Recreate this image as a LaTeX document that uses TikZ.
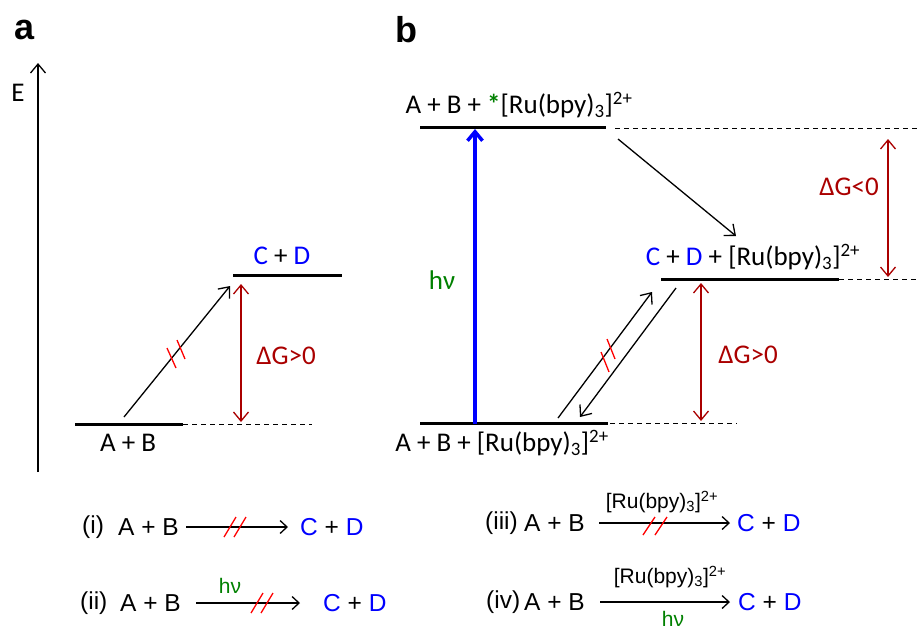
\documentclass[tikz,border=0pt]{standalone}
\usepackage{fontspec}
\setmainfont{Carlito}
\newfontfamily\arialfont{Liberation Sans}
\usepackage{xcolor}
\usepackage{tikz}
\usetikzlibrary{arrows.meta, calc}
\definecolor{cdblue}{RGB}{0,0,255}
\definecolor{dgred}{RGB}{170,0,0}
\definecolor{hvgreen}{RGB}{0,128,0}
\newcommand{\rubpy}{[Ru(bpy)\textsubscript{3}]\textsuperscript{2+}}
\newcommand{\cdpair}{\textcolor{cdblue}{C} + \textcolor{cdblue}{D}}

\begin{document}
\begin{tikzpicture}[x=1pt, y=-1pt, >={Straight Barb[length=9pt,width=15pt]},
    level/.style={line width=3pt},
    dashline/.style={dashed, dash pattern=on 5pt off 4pt, line width=0.8pt},
    pathway/.style={->, line width=1.3pt},
    dgarrow/.style={<->, dgred, line width=1.3pt},
    slash/.style={red, line width=1.3pt},
    lab/.style={font=\fontsize{27}{31}\selectfont, inner sep=0pt},
    eq/.style={font=\arialfont\fontsize{24.5}{28}\selectfont, inner sep=0pt},
    eqsmall/.style={font=\arialfont\fontsize{21}{24}\selectfont, inner sep=0pt},
    rxn/.style={-{Straight Barb[length=7pt,width=13pt]}, line width=1.3pt},
    panel/.style={font=\arialfont\bfseries\fontsize{36}{40}\selectfont, inner sep=0pt}]
        \useasboundingbox (0,0) rectangle (921,630);

        % a
        \node[panel] (pa) at (25,30) {a};
        \coordinate (ebot) at (38,472);
        \coordinate (etop) at (38,63);
        \draw[pathway] (ebot) -- (etop);
        \node[lab] (elab) at (18,93) {E};
        \draw[level] (75,424) -- (183,424);
        \draw[level] (233,275) -- (342,275);
        \draw[dashline] (183,424) -- (312,424);
        \node[lab] (abA) at (128,443) {A + B};
        \node[lab] (cdA) at (282,256) {\cdpair};
        \coordinate (fromA) at (124,417);
        \coordinate (toA) at (230,286);
        \draw[pathway] (fromA) -- (toA);
        \draw[slash] (167,348) -- (176,368);
        \draw[slash] (177,340) -- (185,359);
        \coordinate (dgA1) at (241,284);
        \coordinate (dgA2) at (241,422);
        \draw[dgarrow] (dgA1) -- (dgA2);
        \node[lab, dgred] (dgA) at (286,356) {ΔG>0};

        % b
        \node[panel] (pb) at (406,30) {b};
        \draw[level] (420,127) -- (606,127);
        \draw[level] (661,279) -- (839,279);
        \draw[level] (420,423) -- (608,423);
        \draw[dashline] (615,128) -- (917,128);
        \draw[dashline] (839,279) -- (917,279);
        \draw[dashline] (610,423) -- (737,423);
        \node[lab] (excited) at (519,105) {A + B + \textcolor{hvgreen}{\textbf{*}}\rubpy};
        \node[lab] (product) at (753,257) {\cdpair{} + \rubpy};
        \node[lab] (ground) at (502,443) {A + B + \rubpy};
        \coordinate (hvbot) at (475,424);
        \coordinate (hvtop) at (475,129);
        \draw[->, cdblue, line width=3.5pt] (hvbot) -- (hvtop);
        \node[lab, hvgreen] (hv) at (442,280) {hν};
        \coordinate (et1) at (618,139);
        \coordinate (et2) at (736,236);
        \draw[pathway] (et1) -- (et2);
        \coordinate (up1) at (558,418);
        \coordinate (up2) at (652,292);
        \draw[pathway] (up1) -- (up2);
        \draw[slash] (601,352) -- (609,372);
        \draw[slash] (607,339) -- (615,359);
        \coordinate (dn1) at (676,288);
        \coordinate (dn2) at (580,417);
        \draw[pathway] (dn1) -- (dn2);
        \coordinate (dgB1) at (701,283);
        \coordinate (dgB2) at (701,421);
        \draw[dgarrow] (dgB1) -- (dgB2);
        \node[lab, dgred] (dgB) at (748,355) {ΔG>0};
        \coordinate (dgC1) at (888,139);
        \coordinate (dgC2) at (888,277);
        \draw[dgarrow] (dgC1) -- (dgC2);
        \node[lab, dgred] (dgC) at (849,187) {ΔG<0};

        % equations
        \node[eq, anchor=west] (n1) at (82,527) {(i)};
        \node[eq, anchor=west] (r1) at (118,527) {A + B};
        \node[eq, anchor=west] (p1) at (300,527) {\cdpair};
        \draw[rxn, shorten <=7pt, shorten >=12pt] (r1.east) -- (p1.west);
        \draw[slash] (224,537) -- (236,517);
        \draw[slash] (234,537) -- (246,517);

        \node[eq, anchor=west] (n2) at (80,603) {(ii)};
        \node[eq, anchor=west] (r2) at (120,603) {A + B};
        \node[eq, anchor=west] (p2) at (323,603) {\cdpair};
        \draw[rxn, shorten <=15pt, shorten >=23pt] (r2.east) -- (p2.west);
        \node[eqsmall, hvgreen] (hv2) at (230,586) {hν};
        \draw[slash] (251,613) -- (263,593);
        \draw[slash] (261,613) -- (273,593);

        \node[eq, anchor=west] (n3) at (485,523) {(iii)};
        \node[eq, anchor=west] (r3) at (524,523) {A + B};
        \node[eq, anchor=west] (p3) at (737,523) {\cdpair};
        \draw[rxn, shorten <=14pt, shorten >=7pt] (r3.east) -- (p3.west);
        \node[eqsmall] (cat3) at (662,502) {\rubpy};
        \draw[slash] (643,535) -- (655,517);
        \draw[slash] (655,535) -- (667,517);

        \node[eq, anchor=west] (n4) at (486,602) {(iv)};
        \node[eq, anchor=west] (r4) at (524,602) {A + B};
        \node[eq, anchor=west] (p4) at (738,602) {\cdpair};
        \draw[rxn, shorten <=15pt, shorten >=8pt] (r4.east) -- (p4.west);
        \node[eqsmall] (cat4) at (670,577) {\rubpy};
        \node[eqsmall, hvgreen] (hv4) at (673,619) {hν};
    \end{tikzpicture}
\end{document}
